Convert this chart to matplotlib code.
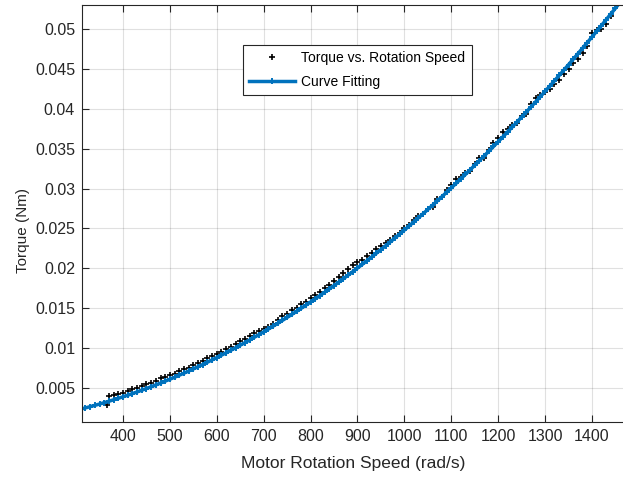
import matplotlib
matplotlib.use("Agg")
import matplotlib.pyplot as plt

# measured points (rad/s, Nm)
speed = [365, 370, 380, 390, 400, 410, 420, 430, 440, 450, 460, 470, 480, 490,
         500, 510, 520, 530, 540, 550, 560, 570, 580, 590, 600, 610, 620, 630,
         640, 650, 660, 670, 680, 690, 700, 710, 720, 730, 740, 750, 760, 770,
         780, 790, 800, 810, 820, 830, 840, 850, 860, 870, 880, 890, 900, 910,
         920, 930, 940, 950, 960, 970, 980, 990, 1000, 1010, 1020, 1030, 1040,
         1050, 1060, 1070, 1080, 1090, 1100, 1110, 1120, 1130, 1140, 1150, 1160,
         1170, 1180, 1190, 1200, 1210, 1220, 1230, 1240, 1250, 1260, 1270, 1280,
         1290, 1300, 1310, 1320, 1330, 1340, 1350, 1360, 1370, 1380, 1390, 1400,
         1410, 1420, 1430, 1440]
torque = [0.00285, 0.00404, 0.00412, 0.00431, 0.00440, 0.00460, 0.00490, 0.00501,
          0.00522, 0.00554, 0.00566, 0.00589, 0.00622, 0.00636, 0.00660, 0.00675,
          0.00710, 0.00736, 0.00752, 0.00789, 0.00817, 0.00835, 0.00873, 0.00902,
          0.00931, 0.00951, 0.00992, 0.01013, 0.01054, 0.01086, 0.01109, 0.01152,
          0.01186, 0.01210, 0.01234, 0.01259, 0.01305, 0.01351, 0.01398, 0.01425,
          0.01472, 0.01501, 0.01549, 0.01579, 0.01628, 0.01668, 0.01699, 0.01750,
          0.01792, 0.01845, 0.01887, 0.01941, 0.01994, 0.02039, 0.02074, 0.02109,
          0.02155, 0.02191, 0.02248, 0.02286, 0.02313, 0.02352, 0.02411, 0.02440,
          0.02500, 0.02541, 0.02612, 0.02653, 0.02675, 0.02748, 0.02771, 0.02865,
          0.02889, 0.02983, 0.03048, 0.03114, 0.03150, 0.03197, 0.03214, 0.03302,
          0.03380, 0.03389, 0.03488, 0.03568, 0.03638, 0.03709, 0.03750, 0.03792,
          0.03824, 0.03907, 0.03930, 0.04054, 0.04138, 0.04173, 0.04209, 0.04254,
          0.04311, 0.04358, 0.04435, 0.04493, 0.04572, 0.04621, 0.04700, 0.04790,
          0.04951, 0.04992, 0.05003, 0.05065, 0.05158]

# fitted curve
fit_speed = [312, 320, 330, 340, 350, 360, 370, 380, 390, 400, 410, 420, 430, 440,
             450, 460, 470, 480, 490, 500, 510, 520, 530, 540, 550, 560, 570, 580,
             590, 600, 610, 620, 630, 640, 650, 660, 670, 680, 690, 700, 710, 720,
             730, 740, 750, 760, 770, 780, 790, 800, 810, 820, 830, 840, 850, 860,
             870, 880, 890, 900, 910, 920, 930, 940, 950, 960, 970, 980, 990, 1000,
             1010, 1020, 1030, 1040, 1050, 1060, 1070, 1080, 1090, 1100, 1110, 1120,
             1130, 1140, 1150, 1160, 1170, 1180, 1190, 1200, 1210, 1220, 1230, 1240,
             1250, 1260, 1270, 1280, 1290, 1300, 1310, 1320, 1330, 1340, 1350, 1360,
             1370, 1380, 1390, 1400, 1410, 1420, 1430, 1440, 1450, 1460, 1465]
fit_torque = [0.002389, 0.002510, 0.002665, 0.002826, 0.002993, 0.003164, 0.003340,
              0.003522, 0.003708, 0.003900, 0.004097, 0.004299, 0.004506, 0.004719,
              0.004936, 0.005159, 0.005386, 0.005619, 0.005857, 0.006101, 0.006349,
              0.006602, 0.006861, 0.007124, 0.007393, 0.007667, 0.007946, 0.008230,
              0.008520, 0.008814, 0.009114, 0.009419, 0.009728, 0.010043, 0.010364,
              0.010689, 0.011019, 0.011355, 0.011696, 0.012041, 0.012392, 0.012748,
              0.013110, 0.013476, 0.013847, 0.014224, 0.014606, 0.014993, 0.015385,
              0.015782, 0.016184, 0.016591, 0.017004, 0.017422, 0.017845, 0.018273,
              0.018706, 0.019144, 0.019587, 0.020036, 0.020489, 0.020948, 0.021412,
              0.021881, 0.022355, 0.022834, 0.023319, 0.023808, 0.024303, 0.024803,
              0.025308, 0.025818, 0.026333, 0.026854, 0.027379, 0.027910, 0.028446,
              0.028986, 0.029533, 0.030084, 0.030640, 0.031201, 0.031768, 0.032340,
              0.032917, 0.033498, 0.034086, 0.034678, 0.035275, 0.035878, 0.036485,
              0.037098, 0.037716, 0.038339, 0.038967, 0.039601, 0.040239, 0.040883,
              0.041531, 0.042185, 0.042844, 0.043508, 0.044178, 0.044852, 0.045532,
              0.046216, 0.046906, 0.047601, 0.048301, 0.049006, 0.049717, 0.050432,
              0.051153, 0.051878, 0.052609, 0.053345, 0.053715]

xticks = [400, 500, 600, 700, 800, 900, 1000, 1100, 1200, 1300, 1400]
yticks = [0.005, 0.01, 0.015, 0.02, 0.025, 0.03, 0.035, 0.04, 0.045, 0.05]
ytick_labels = ["0.005", "0.01", "0.015", "0.02", "0.025", "0.03", "0.035",
                "0.04", "0.045", "0.05"]

plt.rcParams['font.family'] = ['Liberation Sans', 'DejaVu Sans']
dark = '#262626'
blue = '#0072BD'

fig = plt.figure(figsize=(6.23, 4.79), dpi=100)
ax = fig.add_axes([82 / 623, 1 - 422 / 479, 543 / 623, 417 / 479])

ax.plot(speed, torque, linestyle='none', marker='+', color='black',
        markersize=4, markeredgewidth=1.2, label='Torque vs. Rotation Speed')
ax.plot(fit_speed, fit_torque, color=blue, linewidth=2.5, marker='+',
        markersize=5, markeredgewidth=1.4, label='Curve Fitting')

ax.set_xlim(312.6, 1470.4)
ax.set_ylim(0.00074, 0.05301)
ax.set_xticks(xticks)
ax.set_yticks(yticks, labels=ytick_labels)

ax.grid(True, color='black', alpha=0.12, linewidth=0.8)
ax.set_axisbelow(True)
ax.tick_params(direction='in', length=5, width=0.8, colors=dark,
               labelsize=11.5, top=True, right=False, pad=5)
for s in ax.spines.values():
    s.set_color(dark)
    s.set_linewidth(0.8)

ax.set_xlabel('Motor Rotation Speed (rad/s)', fontsize=12.5, color=dark, labelpad=9)
ax.set_ylabel('Torque (Nm)', fontsize=11, color=dark)
ax.yaxis.set_label_coords(-0.095, 0.46)

leg = ax.legend(loc='upper left', bbox_to_anchor=((243 - 82) / 543, (422 - 45) / 417),
                fontsize=10, frameon=True, fancybox=False, framealpha=1,
                edgecolor=dark, borderpad=0.45, handlelength=3.3,
                handletextpad=0.45, labelspacing=0.7, borderaxespad=0)
leg.get_frame().set_linewidth(0.8)

fig.savefig('out.png', dpi=100)
